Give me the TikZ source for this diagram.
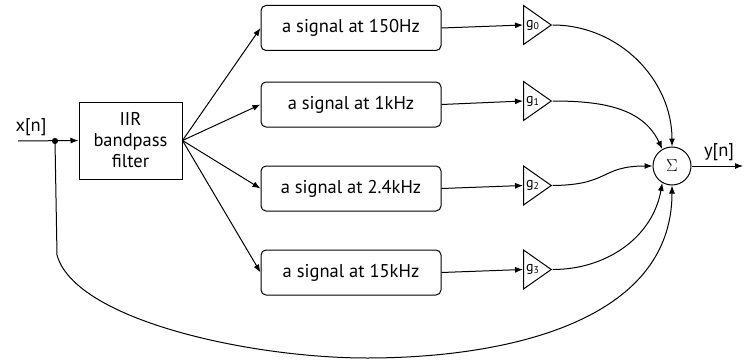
\documentclass[tikz,border=0pt]{standalone}
\usepackage{fontspec}
\setmainfont{PT Sans}
\usetikzlibrary{shapes.geometric,arrows.meta}

\begin{document}
\begin{tikzpicture}[x=1pt, y=-1pt, line width=1pt, >={Latex[length=8pt,width=6pt]},
    every node/.style={font=\fontsize{18.5}{21}\selectfont},
    band/.style={draw, rounded corners=5pt, minimum width=180pt, minimum height=45pt, inner sep=0pt},
    gain/.style={draw, isosceles triangle, isosceles triangle stretches, minimum width=39pt,
      minimum height=25pt, inner sep=0.5pt, anchor=west, font=\fontsize{14}{14}\selectfont}]
  \useasboundingbox (0,0) rectangle (744,361);
  % input and filter
  \coordinate (in) at (18,141);
  \coordinate (split) at (55,141);
  \node (xn) at (31,127) {x[n]};
  \node[draw, minimum width=103pt, minimum height=77pt, align=center, inner sep=0pt] (iir) at (130.5,140.5) {IIR\\bandpass\\filter};
  \draw[->] (in) -- (iir.west);
  \filldraw (split) circle (2.5pt);
  % the four bands
  \node[band] (sig0) at (351,28) {a signal at 150Hz};
  \node[band] (sig1) at (351,104.5) {a signal at 1kHz};
  \node[band] (sig2) at (351,188.5) {a signal at 2.4kHz};
  \node[band] (sig3) at (351,272.5) {a signal at 15kHz};
  \foreach \i in {0,...,3} \draw[->] (iir.east) -- (sig\i.west);
  % gains
  \node[gain] (g0) at (523,25) {g\textsubscript{0}};
  \node[gain] (g1) at (523,101) {g\textsubscript{1}};
  \node[gain] (g2) at (523,185.5) {g\textsubscript{2}};
  \node[gain] (g3) at (523,269.5) {g\textsubscript{3}};
  \foreach \i in {0,...,3} \draw[->] (sig\i.east) -- (g\i.west);
  % summation
  \node[draw, circle, minimum size=38pt, inner sep=0pt] (sum) at (672,166) {$\Sigma$};
  \coordinate (out) at (743,166);
  \node (yn) at (719,152) {y[n]};
  \draw[->] (g0.east) to[out=0, in=90] (sum.north);
  \draw[->] (g1.east) to[out=0, in=115] (sum.120);
  \draw[->] (g2.east) .. controls (610,185) and (600,166) .. (sum.west);
  \draw[->] (g3.east) to[out=0, in=260] (sum.240);
  \draw[->] (split) -- (57,255) .. controls (75,320) and (250,358) .. (367,358)
    to[out=0, in=270] (sum.south);
  \draw[->] (sum.east) -- (out);
\end{tikzpicture}
\end{document}
